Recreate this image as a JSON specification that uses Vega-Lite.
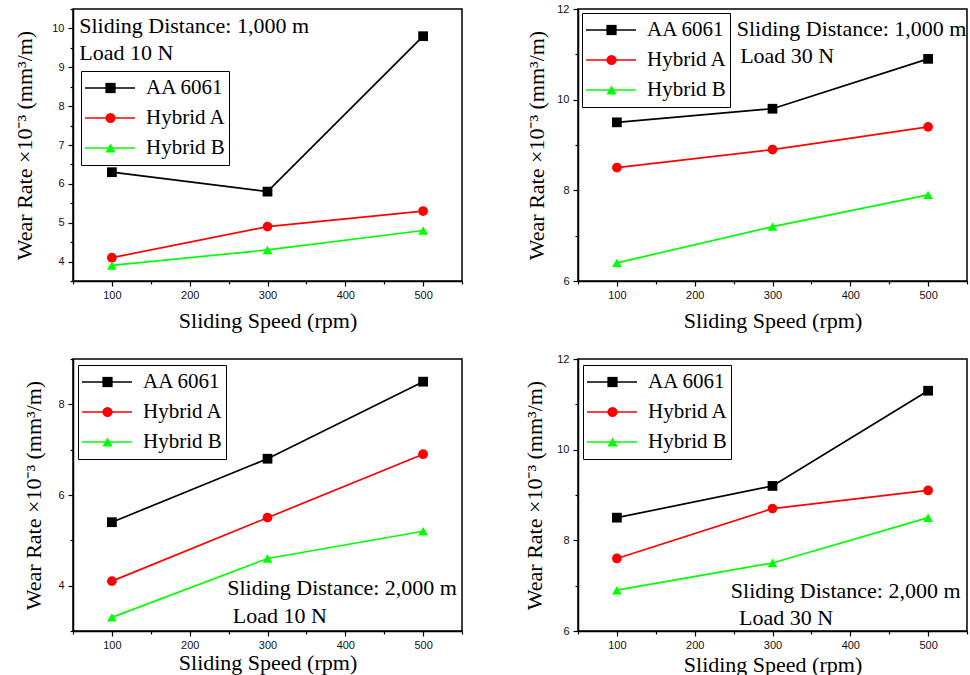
{
  "$schema": "https://vega.github.io/schema/vega-lite/v6.json",
  "background": "white",
  "padding": {"left": 13, "top": 2, "right": 0, "bottom": 0},
  "datasets": {
    "wear": [
      {"panel": "p1", "series": "AA 6061", "speed": 100, "rate": 6.3},
      {"panel": "p1", "series": "AA 6061", "speed": 300, "rate": 5.8},
      {"panel": "p1", "series": "AA 6061", "speed": 500, "rate": 9.8},
      {"panel": "p1", "series": "Hybrid A", "speed": 100, "rate": 4.1},
      {"panel": "p1", "series": "Hybrid A", "speed": 300, "rate": 4.9},
      {"panel": "p1", "series": "Hybrid A", "speed": 500, "rate": 5.3},
      {"panel": "p1", "series": "Hybrid B", "speed": 100, "rate": 3.9},
      {"panel": "p1", "series": "Hybrid B", "speed": 300, "rate": 4.3},
      {"panel": "p1", "series": "Hybrid B", "speed": 500, "rate": 4.8},
      {"panel": "p2", "series": "AA 6061", "speed": 100, "rate": 9.5},
      {"panel": "p2", "series": "AA 6061", "speed": 300, "rate": 9.8},
      {"panel": "p2", "series": "AA 6061", "speed": 500, "rate": 10.9},
      {"panel": "p2", "series": "Hybrid A", "speed": 100, "rate": 8.5},
      {"panel": "p2", "series": "Hybrid A", "speed": 300, "rate": 8.9},
      {"panel": "p2", "series": "Hybrid A", "speed": 500, "rate": 9.4},
      {"panel": "p2", "series": "Hybrid B", "speed": 100, "rate": 6.4},
      {"panel": "p2", "series": "Hybrid B", "speed": 300, "rate": 7.2},
      {"panel": "p2", "series": "Hybrid B", "speed": 500, "rate": 7.9},
      {"panel": "p3", "series": "AA 6061", "speed": 100, "rate": 5.4},
      {"panel": "p3", "series": "AA 6061", "speed": 300, "rate": 6.8},
      {"panel": "p3", "series": "AA 6061", "speed": 500, "rate": 8.5},
      {"panel": "p3", "series": "Hybrid A", "speed": 100, "rate": 4.1},
      {"panel": "p3", "series": "Hybrid A", "speed": 300, "rate": 5.5},
      {"panel": "p3", "series": "Hybrid A", "speed": 500, "rate": 6.9},
      {"panel": "p3", "series": "Hybrid B", "speed": 100, "rate": 3.3},
      {"panel": "p3", "series": "Hybrid B", "speed": 300, "rate": 4.6},
      {"panel": "p3", "series": "Hybrid B", "speed": 500, "rate": 5.2},
      {"panel": "p4", "series": "AA 6061", "speed": 100, "rate": 8.5},
      {"panel": "p4", "series": "AA 6061", "speed": 300, "rate": 9.2},
      {"panel": "p4", "series": "AA 6061", "speed": 500, "rate": 11.3},
      {"panel": "p4", "series": "Hybrid A", "speed": 100, "rate": 7.6},
      {"panel": "p4", "series": "Hybrid A", "speed": 300, "rate": 8.7},
      {"panel": "p4", "series": "Hybrid A", "speed": 500, "rate": 9.1},
      {"panel": "p4", "series": "Hybrid B", "speed": 100, "rate": 6.9},
      {"panel": "p4", "series": "Hybrid B", "speed": 300, "rate": 7.5},
      {"panel": "p4", "series": "Hybrid B", "speed": 500, "rate": 8.5}
    ]
  },
  "columns": 2,
  "spacing": {"row": 78, "column": 116},
  "bounds": "flush",
  "resolve": {
    "scale": {"x": "independent", "y": "independent", "color": "independent", "fill": "independent", "shape": "independent"},
    "legend": {"color": "independent", "fill": "independent", "shape": "independent"},
    "axis": {"x": "independent", "y": "independent"}
  },
  "concat": [
    {
      "width": 389, "height": 272,
      "data": {"name": "wear"},
      "transform": [{"filter": "datum.panel === 'p1'"}],
      "layer": [
        {
          "mark": {"type": "line", "strokeWidth": 1.7},
          "encoding": {
            "x": {"field": "speed", "type": "quantitative", "title": "Sliding Speed (rpm)",
              "scale": {"domain": [50, 550], "nice": false, "zero": false},
              "axis": {"values": [50, 100, 150, 200, 250, 300, 350, 400, 450, 500, 550], "tickCount": 40, "labelExpr": "datum.value % 100 === 0 ? '' + datum.value : ''", "tickSize": {"condition": {"test": "datum.value % 100 === 0", "value": 5}, "value": 3}, "titlePadding": 10}},
            "y": {"field": "rate", "type": "quantitative", "title": "Wear Rate ×10⁻³ (mm³/m)",
              "scale": {"domain": [3.5, 10.5], "nice": false, "zero": false},
              "axis": {"values": [3.5, 4, 4.5, 5, 5.5, 6, 6.5, 7, 7.5, 8, 8.5, 9, 9.5, 10, 10.5], "tickCount": 40, "labelExpr": "datum.value % 1 === 0 ? '' + datum.value : ''", "tickSize": {"condition": {"test": "datum.value % 1 === 0", "value": 5}, "value": 3}, "titlePadding": 15}},
            "color": {"field": "series", "type": "nominal", "scale": {"domain": ["AA 6061", "Hybrid A", "Hybrid B"], "range": ["#000000", "#ff0000", "#00ff00"]},
              "legend": {"orient": "none", "legendX": 8, "legendY": 62, "title": null, "symbolType": "stroke", "symbolSize": 2500, "symbolStrokeWidth": 1.7, "clipHeight": 28, "padding": 3, "labelOffset": 10, "labelFont": "Liberation Serif", "labelFontSize": 21, "labelColor": "black", "strokeColor": "black", "fillColor": "white", "labelLimit": 300, "zindex": 1}},
            "detail": {"field": "series"}
          }
        },
        {
          "mark": {"type": "point", "filled": true, "opacity": 1, "strokeWidth": 0, "size": 95},
          "encoding": {
            "x": {"field": "speed", "type": "quantitative"},
            "y": {"field": "rate", "type": "quantitative"},
            "fill": {"field": "series", "type": "nominal", "scale": {"range": ["#000000", "#ff0000", "#00ff00"]},
              "legend": {"orient": "none", "legendX": 29, "legendY": 62, "title": null, "symbolSize": 105, "symbolStrokeWidth": 0, "symbolOpacity": 1, "clipHeight": 28, "padding": 3, "labelOffset": 0, "labelExpr": "''", "zindex": 2}},
            "shape": {"field": "series", "type": "nominal", "scale": {"range": ["square", "circle", "triangle-up"]},
              "legend": {"orient": "none", "legendX": 29, "legendY": 62, "title": null, "symbolSize": 105, "symbolStrokeWidth": 0, "symbolOpacity": 1, "clipHeight": 28, "padding": 3, "labelOffset": 0, "labelExpr": "''", "zindex": 2}}
          }
        },
        {
          "data": {"values": [{"note": "Sliding Distance: 1,000 m"}]},
          "mark": {"type": "text", "font": "Liberation Serif", "fontSize": 22, "align": "left", "baseline": "alphabetic", "color": "black"},
          "encoding": {"x": {"datum": 58, "type": "quantitative"}, "y": {"datum": 9.875, "type": "quantitative"}, "text": {"field": "note"}}
        },
        {
          "data": {"values": [{"note": "Load 10 N"}]},
          "mark": {"type": "text", "font": "Liberation Serif", "fontSize": 22, "align": "left", "baseline": "alphabetic", "color": "black"},
          "encoding": {"x": {"datum": 58, "type": "quantitative"}, "y": {"datum": 9.188, "type": "quantitative"}, "text": {"field": "note"}}
        }
      ]
    },
    {
      "width": 389, "height": 272,
      "data": {"name": "wear"},
      "transform": [{"filter": "datum.panel === 'p2'"}],
      "layer": [
        {
          "mark": {"type": "line", "strokeWidth": 1.7},
          "encoding": {
            "x": {"field": "speed", "type": "quantitative", "title": "Sliding Speed (rpm)",
              "scale": {"domain": [50, 550], "nice": false, "zero": false},
              "axis": {"values": [50, 100, 150, 200, 250, 300, 350, 400, 450, 500, 550], "tickCount": 40, "labelExpr": "datum.value % 100 === 0 ? '' + datum.value : ''", "tickSize": {"condition": {"test": "datum.value % 100 === 0", "value": 5}, "value": 3}, "titlePadding": 10}},
            "y": {"field": "rate", "type": "quantitative", "title": "Wear Rate ×10⁻³ (mm³/m)",
              "scale": {"domain": [6, 12], "nice": false, "zero": false},
              "axis": {"values": [6, 7, 8, 9, 10, 11, 12], "tickCount": 40, "labelExpr": "datum.value % 2 === 0 ? '' + datum.value : ''", "tickSize": {"condition": {"test": "datum.value % 2 === 0", "value": 5}, "value": 3}, "titlePadding": 8}},
            "color": {"field": "series", "type": "nominal", "scale": {"domain": ["AA 6061", "Hybrid A", "Hybrid B"], "range": ["#000000", "#ff0000", "#00ff00"]},
              "legend": {"orient": "none", "legendX": 4, "legendY": 4, "title": null, "symbolType": "stroke", "symbolSize": 2500, "symbolStrokeWidth": 1.7, "clipHeight": 28, "padding": 3, "labelOffset": 10, "labelFont": "Liberation Serif", "labelFontSize": 21, "labelColor": "black", "strokeColor": "black", "fillColor": "white", "labelLimit": 300, "zindex": 1}},
            "detail": {"field": "series"}
          }
        },
        {
          "mark": {"type": "point", "filled": true, "opacity": 1, "strokeWidth": 0, "size": 95},
          "encoding": {
            "x": {"field": "speed", "type": "quantitative"},
            "y": {"field": "rate", "type": "quantitative"},
            "fill": {"field": "series", "type": "nominal", "scale": {"range": ["#000000", "#ff0000", "#00ff00"]},
              "legend": {"orient": "none", "legendX": 25, "legendY": 4, "title": null, "symbolSize": 105, "symbolStrokeWidth": 0, "symbolOpacity": 1, "clipHeight": 28, "padding": 3, "labelOffset": 0, "labelExpr": "''", "zindex": 2}},
            "shape": {"field": "series", "type": "nominal", "scale": {"range": ["square", "circle", "triangle-up"]},
              "legend": {"orient": "none", "legendX": 25, "legendY": 4, "title": null, "symbolSize": 105, "symbolStrokeWidth": 0, "symbolOpacity": 1, "clipHeight": 28, "padding": 3, "labelOffset": 0, "labelExpr": "''", "zindex": 2}}
          }
        },
        {
          "data": {"values": [{"note": "Sliding Distance: 1,000 m"}]},
          "mark": {"type": "text", "font": "Liberation Serif", "fontSize": 22, "align": "left", "baseline": "alphabetic", "color": "black"},
          "encoding": {"x": {"datum": 254, "type": "quantitative"}, "y": {"datum": 11.41, "type": "quantitative"}, "text": {"field": "note"}}
        },
        {
          "data": {"values": [{"note": "Load 30 N"}]},
          "mark": {"type": "text", "font": "Liberation Serif", "fontSize": 22, "align": "left", "baseline": "alphabetic", "color": "black"},
          "encoding": {"x": {"datum": 258.4, "type": "quantitative"}, "y": {"datum": 10.815, "type": "quantitative"}, "text": {"field": "note"}}
        }
      ]
    },
    {
      "width": 389, "height": 272,
      "data": {"name": "wear"},
      "transform": [{"filter": "datum.panel === 'p3'"}],
      "layer": [
        {
          "mark": {"type": "line", "strokeWidth": 1.7},
          "encoding": {
            "x": {"field": "speed", "type": "quantitative", "title": "Sliding Speed (rpm)",
              "scale": {"domain": [50, 550], "nice": false, "zero": false},
              "axis": {"values": [50, 100, 150, 200, 250, 300, 350, 400, 450, 500, 550], "tickCount": 40, "labelExpr": "datum.value % 100 === 0 ? '' + datum.value : ''", "tickSize": {"condition": {"test": "datum.value % 100 === 0", "value": 5}, "value": 3}, "titlePadding": 2}},
            "y": {"field": "rate", "type": "quantitative", "title": "Wear Rate ×10⁻³ (mm³/m)",
              "scale": {"domain": [3, 9], "nice": false, "zero": false},
              "axis": {"values": [3, 4, 5, 6, 7, 8, 9], "tickCount": 40, "labelExpr": "datum.value % 2 === 0 ? '' + datum.value : ''", "tickSize": {"condition": {"test": "datum.value % 2 === 0", "value": 5}, "value": 3}, "titlePadding": 12}},
            "color": {"field": "series", "type": "nominal", "scale": {"domain": ["AA 6061", "Hybrid A", "Hybrid B"], "range": ["#000000", "#ff0000", "#00ff00"]},
              "legend": {"orient": "none", "legendX": 5, "legendY": 6, "title": null, "symbolType": "stroke", "symbolSize": 2500, "symbolStrokeWidth": 1.7, "clipHeight": 28, "padding": 3, "labelOffset": 10, "labelFont": "Liberation Serif", "labelFontSize": 21, "labelColor": "black", "strokeColor": "black", "fillColor": "white", "labelLimit": 300, "zindex": 1}},
            "detail": {"field": "series"}
          }
        },
        {
          "mark": {"type": "point", "filled": true, "opacity": 1, "strokeWidth": 0, "size": 95},
          "encoding": {
            "x": {"field": "speed", "type": "quantitative"},
            "y": {"field": "rate", "type": "quantitative"},
            "fill": {"field": "series", "type": "nominal", "scale": {"range": ["#000000", "#ff0000", "#00ff00"]},
              "legend": {"orient": "none", "legendX": 26, "legendY": 6, "title": null, "symbolSize": 105, "symbolStrokeWidth": 0, "symbolOpacity": 1, "clipHeight": 28, "padding": 3, "labelOffset": 0, "labelExpr": "''", "zindex": 2}},
            "shape": {"field": "series", "type": "nominal", "scale": {"range": ["square", "circle", "triangle-up"]},
              "legend": {"orient": "none", "legendX": 26, "legendY": 6, "title": null, "symbolSize": 105, "symbolStrokeWidth": 0, "symbolOpacity": 1, "clipHeight": 28, "padding": 3, "labelOffset": 0, "labelExpr": "''", "zindex": 2}}
          }
        },
        {
          "data": {"values": [{"note": "Sliding Distance: 2,000 m"}]},
          "mark": {"type": "text", "font": "Liberation Serif", "fontSize": 22, "align": "left", "baseline": "alphabetic", "color": "black"},
          "encoding": {"x": {"datum": 248.2, "type": "quantitative"}, "y": {"datum": 3.797, "type": "quantitative"}, "text": {"field": "note"}}
        },
        {
          "data": {"values": [{"note": "Load 10 N"}]},
          "mark": {"type": "text", "font": "Liberation Serif", "fontSize": 22, "align": "left", "baseline": "alphabetic", "color": "black"},
          "encoding": {"x": {"datum": 255.4, "type": "quantitative"}, "y": {"datum": 3.184, "type": "quantitative"}, "text": {"field": "note"}}
        }
      ]
    },
    {
      "width": 389, "height": 272,
      "data": {"name": "wear"},
      "transform": [{"filter": "datum.panel === 'p4'"}],
      "layer": [
        {
          "mark": {"type": "line", "strokeWidth": 1.7},
          "encoding": {
            "x": {"field": "speed", "type": "quantitative", "title": "Sliding Speed (rpm)",
              "scale": {"domain": [50, 550], "nice": false, "zero": false},
              "axis": {"values": [50, 100, 150, 200, 250, 300, 350, 400, 450, 500, 550], "tickCount": 40, "labelExpr": "datum.value % 100 === 0 ? '' + datum.value : ''", "tickSize": {"condition": {"test": "datum.value % 100 === 0", "value": 5}, "value": 3}, "titlePadding": 4}},
            "y": {"field": "rate", "type": "quantitative", "title": "Wear Rate ×10⁻³ (mm³/m)",
              "scale": {"domain": [6, 12], "nice": false, "zero": false},
              "axis": {"values": [6, 7, 8, 9, 10, 11, 12], "tickCount": 40, "labelExpr": "datum.value % 2 === 0 ? '' + datum.value : ''", "tickSize": {"condition": {"test": "datum.value % 2 === 0", "value": 5}, "value": 3}, "titlePadding": 10}},
            "color": {"field": "series", "type": "nominal", "scale": {"domain": ["AA 6061", "Hybrid A", "Hybrid B"], "range": ["#000000", "#ff0000", "#00ff00"]},
              "legend": {"orient": "none", "legendX": 5, "legendY": 6, "title": null, "symbolType": "stroke", "symbolSize": 2500, "symbolStrokeWidth": 1.7, "clipHeight": 28, "padding": 3, "labelOffset": 10, "labelFont": "Liberation Serif", "labelFontSize": 21, "labelColor": "black", "strokeColor": "black", "fillColor": "white", "labelLimit": 300, "zindex": 1}},
            "detail": {"field": "series"}
          }
        },
        {
          "mark": {"type": "point", "filled": true, "opacity": 1, "strokeWidth": 0, "size": 95},
          "encoding": {
            "x": {"field": "speed", "type": "quantitative"},
            "y": {"field": "rate", "type": "quantitative"},
            "fill": {"field": "series", "type": "nominal", "scale": {"range": ["#000000", "#ff0000", "#00ff00"]},
              "legend": {"orient": "none", "legendX": 26, "legendY": 6, "title": null, "symbolSize": 105, "symbolStrokeWidth": 0, "symbolOpacity": 1, "clipHeight": 28, "padding": 3, "labelOffset": 0, "labelExpr": "''", "zindex": 2}},
            "shape": {"field": "series", "type": "nominal", "scale": {"range": ["square", "circle", "triangle-up"]},
              "legend": {"orient": "none", "legendX": 26, "legendY": 6, "title": null, "symbolSize": 105, "symbolStrokeWidth": 0, "symbolOpacity": 1, "clipHeight": 28, "padding": 3, "labelOffset": 0, "labelExpr": "''", "zindex": 2}}
          }
        },
        {
          "data": {"values": [{"note": "Sliding Distance: 2,000 m"}]},
          "mark": {"type": "text", "font": "Liberation Serif", "fontSize": 22, "align": "left", "baseline": "alphabetic", "color": "black"},
          "encoding": {"x": {"datum": 246.4, "type": "quantitative"}, "y": {"datum": 6.733, "type": "quantitative"}, "text": {"field": "note"}}
        },
        {
          "data": {"values": [{"note": "Load 30 N"}]},
          "mark": {"type": "text", "font": "Liberation Serif", "fontSize": 22, "align": "left", "baseline": "alphabetic", "color": "black"},
          "encoding": {"x": {"datum": 257.1, "type": "quantitative"}, "y": {"datum": 6.132, "type": "quantitative"}, "text": {"field": "note"}}
        }
      ]
    }
  ],
  "config": {
    "view": {"stroke": "black", "strokeWidth": 1.5},
    "axis": {"grid": false, "domainColor": "black", "domainWidth": 1.5, "tickColor": "black", "tickWidth": 1.2, "labelFont": "Liberation Sans", "labelFontSize": 11, "labelColor": "#111111", "labelPadding": 3, "labelFlush": false, "labelOverlap": false, "labelBound": false, "titleFont": "Liberation Serif", "titleFontSize": 22, "titleFontWeight": "normal", "titleColor": "black"},
    "axisY": {"labelPadding": 4}
  }
}
